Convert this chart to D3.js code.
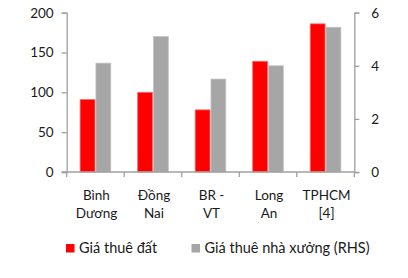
<!DOCTYPE html>
<html><head><meta charset="utf-8">
<script src="https://cdn.jsdelivr.net/npm/d3@7"></script>
<style>body{margin:0;background:#fff}svg{display:block}text{font-family:Lato,"Open Sans",sans-serif;fill:#1a1a1a}</style>
</head><body><svg id="c" width="408" height="278"></svg>
<script>
const categories = [["Bình","Dương"],["Đồng","Nai"],["BR -","VT"],["Long","An"],["TPHCM","[4]"]];
const landPrice = [91, 100, 78, 139, 186];
const factoryPrice = [4.1, 5.1, 3.5, 4.0, 5.45];
const leftTicks = [0, 50, 100, 150, 200];
const rightTicks = [0, 2, 4, 6];
const seriesNames = ["Giá thuê đất", "Giá thuê nhà xưởng (RHS)"];
const colors = ["#ff0000", "#a6a6a6"];

const svg = d3.select("#c");
const x0 = 66.7, x1 = 354.3, yTop = 12.7, yBot = 172;
const x = d3.scaleBand().domain(d3.range(categories.length)).range([x0, x1]).paddingInner(0).paddingOuter(0);
const yL = d3.scaleLinear().domain([0, 200]).range([yBot, yTop]);
const yR = d3.scaleLinear().domain([0, 6]).range([yBot, yTop]);
const sub = d3.scaleBand().domain([0, 1]).range([0, x.bandwidth()]).paddingInner(0.06).paddingOuter(0.85);

const axisColor = "#a0a0a0";
// bars
const g = svg.append("g");
categories.forEach((c, i) => {
  g.append("rect").attr("x", x(i) + sub(0)).attr("width", sub.bandwidth())
    .attr("y", yL(landPrice[i])).attr("height", yBot - yL(landPrice[i]))
    .attr("fill", colors[0]).attr("stroke", "#ff6a6a").attr("stroke-width", 0.8);
  g.append("rect").attr("x", x(i) + sub(1)).attr("width", sub.bandwidth())
    .attr("y", yR(factoryPrice[i])).attr("height", yBot - yR(factoryPrice[i]))
    .attr("fill", colors[1]).attr("stroke", "#c4c4c4").attr("stroke-width", 0.8);
});

// left axis
const la = svg.append("g").attr("transform", `translate(${x0},0)`)
  .call(d3.axisLeft(yL).tickValues(leftTicks).tickSize(5).tickPadding(8));
// right axis
const ra = svg.append("g").attr("transform", `translate(${x1},0)`)
  .call(d3.axisRight(yR).tickValues(rightTicks).tickFormat(d3.format("d")).tickSize(5).tickPadding(12));
// bottom axis
const ba = svg.append("g").attr("transform", `translate(0,${yBot})`)
  .call(d3.axisBottom(x).tickSize(0).tickFormat(""));
[la, ra, ba].forEach(a => {
  a.selectAll("path.domain").attr("stroke", axisColor).attr("stroke-width", 1.3);
  a.selectAll("line").attr("stroke", axisColor).attr("stroke-width", 1.3);
  a.selectAll("text").attr("font-size", 13.5).attr("fill", "#1a1a1a").attr("font-family", "Lato,'Open Sans',sans-serif");
});
ba.select("path.domain").attr("d", `M${x0 - 5},0H${x1}`);
// category tick marks at band boundaries
const bounds = d3.range(categories.length + 1).map(i => i < categories.length ? x(i) : x1);
ba.selectAll("line.b").data(bounds).enter().append("line").attr("class", "b")
  .attr("x1", d => d).attr("x2", d => d).attr("y1", 0).attr("y2", 5)
  .attr("stroke", axisColor).attr("stroke-width", 1.3);

// category labels
categories.forEach((c, i) => {
  const t = svg.append("text").attr("text-anchor", "middle").attr("font-size", 13.5)
    .attr("x", x(i) + x.bandwidth() / 2 + 1);
  t.append("tspan").attr("x", x(i) + x.bandwidth() / 2 + 1).attr("y", 200).text(c[0]);
  t.append("tspan").attr("x", x(i) + x.bandwidth() / 2 + 1).attr("y", 218).text(c[1]);
});

// legend
const legX = [66, 191.5];
seriesNames.forEach((n, i) => {
  svg.append("rect").attr("x", legX[i]).attr("y", 244).attr("width", 8.5).attr("height", 8.5).attr("fill", colors[i]);
  svg.append("text").attr("x", legX[i] + 13).attr("y", 253).attr("font-size", 14.5).text(n);
});
</script></body></html>
